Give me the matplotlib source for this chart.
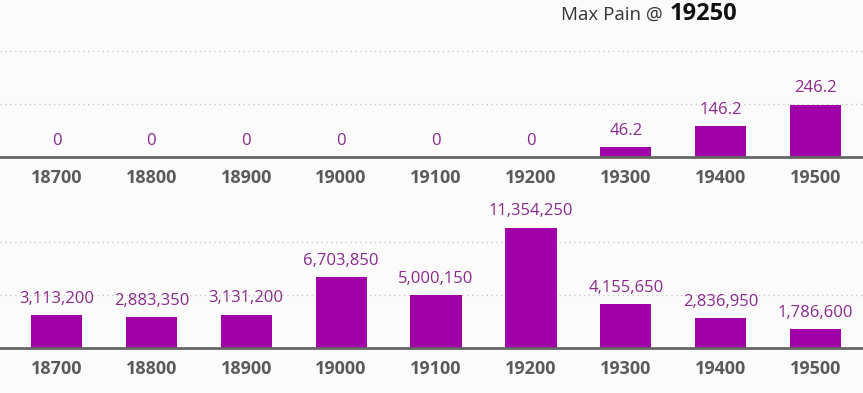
import numpy as np
import matplotlib.pyplot as plt

# strikes and values
strikes = ['18700', '18800', '18900', '19000', '19100', '19200', '19300', '19400', '19500']
top_values = [0, 0, 0, 0, 0, 0, 46.2, 146.2, 246.2]
top_labels = ['0', '0', '0', '0', '0', '0', '46.2', '146.2', '246.2']
bottom_values = [3113200, 2883350, 3131200, 6703850, 5000150, 11354250, 4155650, 2836950, 1786600]
max_pain = '19250'

W, H = 863, 393
bg = '#fbfbfb'
bar_color = '#a100a8'
label_color = '#8a2a8c'
tick_color = '#5a5a5a'

plt.rcParams['font.family'] = ['Open Sans', 'DejaVu Sans']

fig = plt.figure(figsize=(W / 100, H / 100), dpi=100, facecolor=bg)


def panel(y_top, y_base, ylim_top, values, labels, grid_step):
    ax = fig.add_axes([0, (H - y_base) / H, 1, (y_base - y_top) / H])
    ax.set_facecolor(bg)
    x = np.arange(len(strikes))
    ax.bar(x, values, width=0.54, color=bar_color, zorder=3)
    ax.set_xlim(-0.595, 8.5)
    ax.set_ylim(0, ylim_top)
    ax.set_yticks(np.arange(grid_step, ylim_top, grid_step))
    ax.yaxis.grid(True, linestyle=(0, (1, 2.5)), color='#c8c8c8', linewidth=1)
    ax.tick_params(axis='y', left=False, labelleft=False)
    ax.set_xticks(x)
    ax.set_xticklabels(strikes, fontsize=13, fontweight='bold', color=tick_color)
    ax.tick_params(axis='x', length=0, pad=9)
    for s in ['top', 'left', 'right']:
        ax.spines[s].set_visible(False)
    ax.spines['bottom'].set_color('#666666')
    ax.spines['bottom'].set_linewidth(2)
    ax.spines['bottom'].set_zorder(4)
    for xi, v, lab in zip(x, values, labels):
        ax.annotate(lab, (xi, v), xytext=(0, 6), textcoords='offset points',
                    ha='center', va='bottom', fontsize=12, color=label_color)
    return ax


panel(0, 157, 740, top_values, top_labels, 250)
panel(190, 348, 14.9e6, bottom_values, [f'{v:,}' for v in bottom_values], 5e6)

fig.text(663 / W, 1 - 15 / H, 'Max Pain @', ha='right', va='center',
         fontsize=13.5, color='#333333')
fig.text(670 / W, 1 - 14 / H, max_pain, ha='left', va='center',
         fontsize=17, fontweight='bold', color='#111111')

fig.savefig('out.png', dpi=100, facecolor=bg)
